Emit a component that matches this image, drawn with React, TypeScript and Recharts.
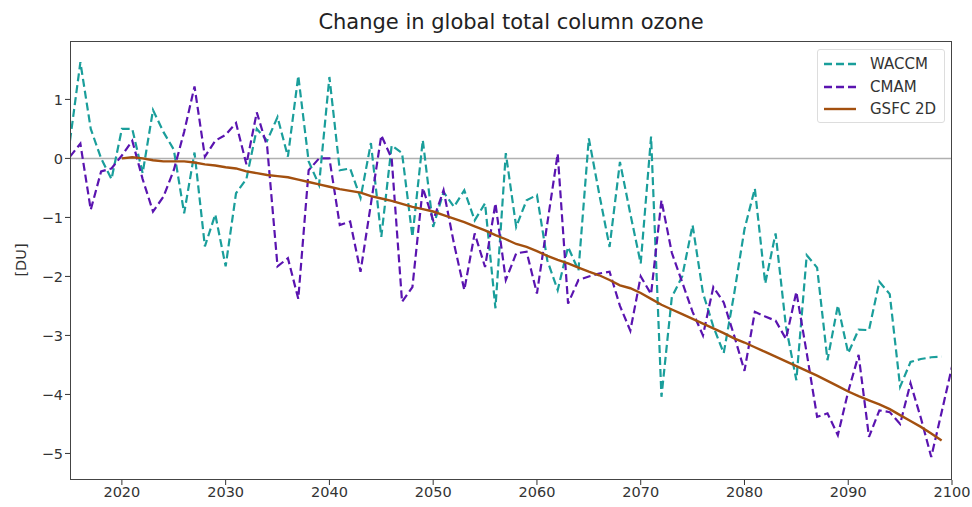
import React from 'react';
import { LineChart, Line, XAxis, YAxis, ReferenceLine } from 'recharts';

const YEAR_START = 2015;
const YEAR_END = 2100;

const waccmStart = 2015;
const waccm = [
  0.3, 1.63, 0.5, 0.0, -0.35, 0.5, 0.5, -0.25, 0.82, 0.45,
  0.15, -0.93, 0.1, -1.49, -0.95, -1.83, -0.59, -0.35, 0.5, 0.3,
  0.7, 0.03, 1.4, -0.05, -0.45, 1.38, -0.2, -0.17, -0.67, 0.26,
  -1.33, 0.22, 0.09, -1.33, 0.31, -1.16, -0.57, -0.82, -0.54, -1.05,
  -0.76, -2.54, 0.09, -1.16, -0.71, -0.62, -1.73, -2.23, -1.5, -1.9,
  0.34, -0.6, -1.5, -0.06, -0.94, -1.78, 0.37, -4.04, -2.35, -2.0,
  -1.13, -2.28, -2.85, -3.3, -2.3, -1.2, -0.51, -2.12, -1.27, -2.85,
  -3.76, -1.64, -1.85, -3.42, -2.49, -3.3, -2.9, -2.91, -2.09, -2.3,
  -3.87, -3.45, -3.4, -3.37, -3.36,
];

const cmamStart = 2015;
const cmam = [
  0.03, 0.25, -0.87, -0.22, -0.17, 0.05, 0.3, -0.35, -0.9, -0.65,
  -0.2, 0.45, 1.22, 0.03, 0.3, 0.4, 0.6, -0.1, 0.78, 0.2,
  -1.83, -1.69, -2.38, -0.2, 0.0, 0.0, -1.13, -1.07, -1.92, -0.77,
  0.39, 0.0, -2.43, -2.18, -0.5, -1.05, -0.54, -1.44, -2.23, -1.27,
  -1.84, -0.76, -2.06, -1.61, -1.58, -2.29, -1.1, 0.08, -2.46, -2.06,
  -2.0, -1.95, -1.92, -2.5, -2.92, -2.0, -2.3, -0.71, -1.6, -2.1,
  -2.6, -3.0, -2.18, -2.44, -3.0, -3.6, -2.6, -2.68, -2.75, -3.06,
  -2.26, -3.3, -4.38, -4.32, -4.69, -3.95, -3.33, -4.72, -4.27, -4.3,
  -4.5, -3.81, -4.4, -5.06, -4.3, -3.53,
];

const gsfcStart = 2020;
const gsfc = [
  0.0, 0.02, 0.0, -0.03, -0.05, -0.05, -0.05, -0.07, -0.1, -0.12,
  -0.15, -0.17, -0.22, -0.25, -0.28, -0.3, -0.32, -0.36, -0.4, -0.44,
  -0.48, -0.52, -0.55, -0.58, -0.64, -0.68, -0.72, -0.77, -0.82, -0.86,
  -0.9, -0.96, -1.02, -1.08, -1.15, -1.22, -1.3, -1.37, -1.45, -1.5,
  -1.57, -1.65, -1.72, -1.78, -1.85, -1.92, -1.98, -2.06, -2.15, -2.2,
  -2.28, -2.38, -2.48, -2.56, -2.64, -2.72, -2.8, -2.88, -2.96, -3.05,
  -3.12, -3.2, -3.28, -3.36, -3.44, -3.52, -3.6, -3.68, -3.77, -3.86,
  -3.95, -4.03, -4.1, -4.17, -4.25, -4.35, -4.45, -4.55, -4.66, -4.78,
];

const xTicks = [2020, 2030, 2040, 2050, 2060, 2070, 2080, 2090, 2100];
const yTicks = [-5, -4, -3, -2, -1, 0, 1];

const seriesNames = ['WACCM', 'CMAM', 'GSFC 2D'];
const colors = { waccm: '#1a9e9b', cmam: '#5a14b0', gsfc: '#a3500f' };

const pick = (arr: number[], start: number, year: number) => {
  const i = year - start;
  return i >= 0 && i < arr.length ? arr[i] : null;
};

const data: any[] = [];
for (let y = YEAR_START; y <= YEAR_END; y++) {
  data.push({
    year: y,
    waccm: pick(waccm, waccmStart, y),
    cmam: pick(cmam, cmamStart, y),
    gsfc: pick(gsfc, gsfcStart, y),
  });
}

const FONT = 'DejaVu Sans, sans-serif';
const tickStyle = { fontSize: 14.5, fill: '#333', fontFamily: FONT };

export default function App() {
  const legendItems = [
    { name: seriesNames[0], color: colors.waccm, dash: '8 4' },
    { name: seriesNames[1], color: colors.cmam, dash: '8 4' },
    { name: seriesNames[2], color: colors.gsfc, dash: undefined },
  ];
  return (
    <div style={{ position: 'absolute', left: 0, top: 0, width: 972, height: 507, background: '#fff', fontFamily: FONT }}>
      <div style={{ position: 'absolute', left: 70, width: 882, top: 8, textAlign: 'center', fontSize: 21, color: '#222', lineHeight: '28px' }}>
        Change in global total column ozone
      </div>
      <div style={{ position: 'absolute', left: 21, top: 260, transform: 'translate(-50%, -50%) rotate(-90deg)', fontSize: 14.5, color: '#333', whiteSpace: 'nowrap' }}>
        [DU]
      </div>
      <LineChart width={972} height={507} data={data} margin={{ top: 41, right: 20, bottom: 0, left: 20 }}>
        <XAxis
          dataKey="year"
          type="number"
          domain={[2015, 2100]}
          ticks={xTicks}
          allowDataOverflow
          axisLine={false}
          tickLine={{ stroke: '#333' }}
          tickSize={5}
          height={27}
          tick={tickStyle}
          interval={0}
        />
        <YAxis
          type="number"
          domain={[-5.45, 1.99]}
          ticks={yTicks}
          allowDataOverflow
          axisLine={false}
          tickLine={{ stroke: '#333' }}
          tickSize={5}
          width={50}
          tick={tickStyle}
          interval={0}
          tickFormatter={(v: number) => String(v).replace('-', '\u2212')}
        />
        <ReferenceLine y={0} stroke="#b0b0b0" strokeWidth={1.5} />
        <Line dataKey="waccm" name={seriesNames[0]} stroke={colors.waccm} strokeWidth={2.2} strokeDasharray="8 4" dot={false} isAnimationActive={false} type="linear" />
        <Line dataKey="cmam" name={seriesNames[1]} stroke={colors.cmam} strokeWidth={2.2} strokeDasharray="8 4" dot={false} isAnimationActive={false} type="linear" />
        <Line dataKey="gsfc" name={seriesNames[2]} stroke={colors.gsfc} strokeWidth={2.4} dot={false} isAnimationActive={false} type="linear" />
      </LineChart>
      <div style={{ position: 'absolute', left: 70, top: 41, width: 882, height: 439, boxSizing: 'border-box', border: '1.3px solid #444', pointerEvents: 'none' }} />
      <div style={{ position: 'absolute', left: 817, top: 49, width: 128, height: 74, boxSizing: 'border-box', border: '1px solid #ddd', borderRadius: 3, background: 'rgba(255,255,255,0.85)', padding: '3px 0 0 6px' }}>
        {legendItems.map((it) => (
          <div key={it.name} style={{ display: 'flex', alignItems: 'center', height: 22.5 }}>
            <svg width={32} height={10} style={{ marginRight: 14 }}>
              <line x1={0} y1={5} x2={32} y2={5} stroke={it.color} strokeWidth={2.4} strokeDasharray={it.dash} />
            </svg>
            <span style={{ fontSize: 15, color: '#333' }}>{it.name}</span>
          </div>
        ))}
      </div>
    </div>
  );
}
